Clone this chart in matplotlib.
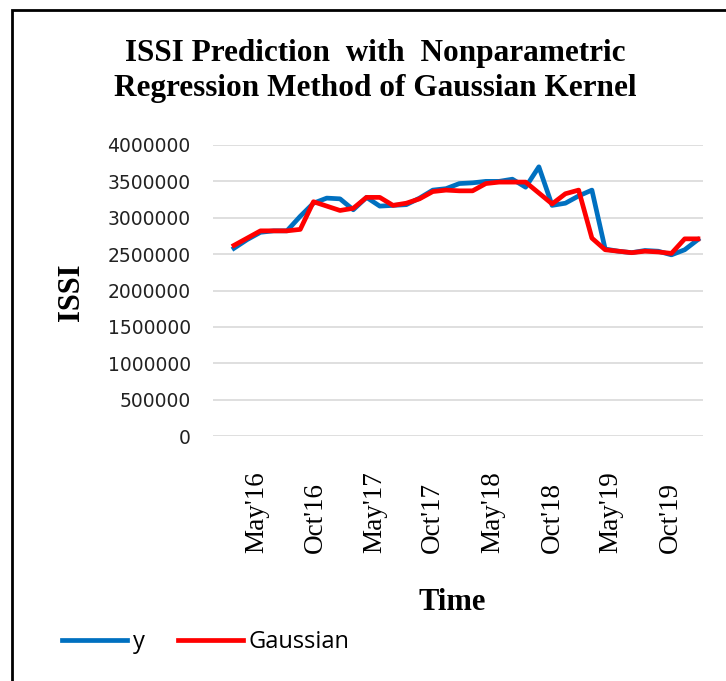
import matplotlib
matplotlib.use("Agg")
import matplotlib.pyplot as plt
from matplotlib.patches import Rectangle

# ISSI index values (actual y) and Gaussian kernel fit, 36 observations
issi_y = [2580000, 2700000, 2800000, 2820000, 2820000, 3020000, 3200000, 3270000, 3260000,
          3110000, 3280000, 3160000, 3170000, 3180000, 3270000, 3380000, 3400000, 3470000,
          3480000, 3500000, 3500000, 3530000, 3420000, 3700000, 3170000, 3200000, 3300000,
          3380000, 2570000, 2540000, 2520000, 2550000, 2540000, 2490000, 2560000, 2700000]
gaussian = [2620000, 2720000, 2820000, 2820000, 2820000, 2840000, 3220000, 3160000, 3100000,
            3130000, 3280000, 3280000, 3170000, 3200000, 3260000, 3360000, 3380000, 3370000,
            3370000, 3470000, 3490000, 3490000, 3490000, 3340000, 3190000, 3330000, 3380000,
            2720000, 2560000, 2540000, 2520000, 2540000, 2530000, 2510000, 2710000, 2710000]

tick_labels = ["May'16", "Oct'16", "May'17", "Oct'17", "May'18", "Oct'18", "May'19", "Oct'19"]
tick_pos = [1.73, 6.12, 10.6, 15.0, 19.5, 24.0, 28.4, 32.9]
y_ticks = [0, 500000, 1000000, 1500000, 2000000, 2500000, 3000000, 3500000, 4000000]

x = range(len(issi_y))

fig = plt.figure(figsize=(7.26, 6.81), dpi=100)
ax = fig.add_axes([213 / 726, 1 - 436 / 681, 490 / 726, 291 / 681])

line_y, = ax.plot(x, issi_y, color="#0070C0", lw=3.4, solid_joinstyle="round")
line_g, = ax.plot(x, gaussian, color="#FF0000", lw=3.4, solid_joinstyle="round")

ax.set_xlim(-1.58, 35.38)
ax.set_ylim(0, 4000000)
ax.set_yticks(y_ticks)
ax.set_yticklabels([str(v) for v in y_ticks], fontsize=13.5, family="DejaVu Sans", color="#222222")
ax.set_xticks(tick_pos)
ax.set_xticklabels(tick_labels, rotation=90, fontsize=19.5, family="Liberation Serif", va="bottom")
ax.tick_params(axis="x", length=0, pad=84)
ax.tick_params(axis="y", length=0, pad=16)
ax.grid(axis="y", color="#D9D9D9", lw=1.2)
ax.set_axisbelow(True)
for s in ax.spines.values():
    s.set_visible(False)

fig.text(375 / 726, 1 - 71 / 681,
         "ISSI Prediction  with  Nonparametric\nRegression Method of Gaussian Kernel",
         ha="center", va="center", fontsize=22.5, fontweight="bold",
         family="Liberation Serif", linespacing=1.28)
fig.text(72 / 726, 1 - 292 / 681, "ISSI", rotation=90, ha="center", va="center",
         fontsize=22, fontweight="bold", family="Liberation Serif")
fig.text(452 / 726, 1 - 603 / 681, "Time", ha="center", va="center",
         fontsize=22, fontweight="bold", family="Liberation Serif")

fig.legend((line_y, line_g), ("y", "Gaussian"), loc="center left",
           bbox_to_anchor=(62 / 726, 1 - 642 / 681), ncol=2, frameon=False,
           borderpad=0, borderaxespad=0, handlelength=2.75, handletextpad=0.25,
           columnspacing=1.4, prop={"family": "Open Sans", "size": 17})

fig.patches.append(Rectangle((12 / 726, -0.1), 1.2, 1.1 - 10 / 681, transform=fig.transFigure,
                             fill=False, lw=2, edgecolor="black"))

fig.savefig("out.png", dpi=100)
